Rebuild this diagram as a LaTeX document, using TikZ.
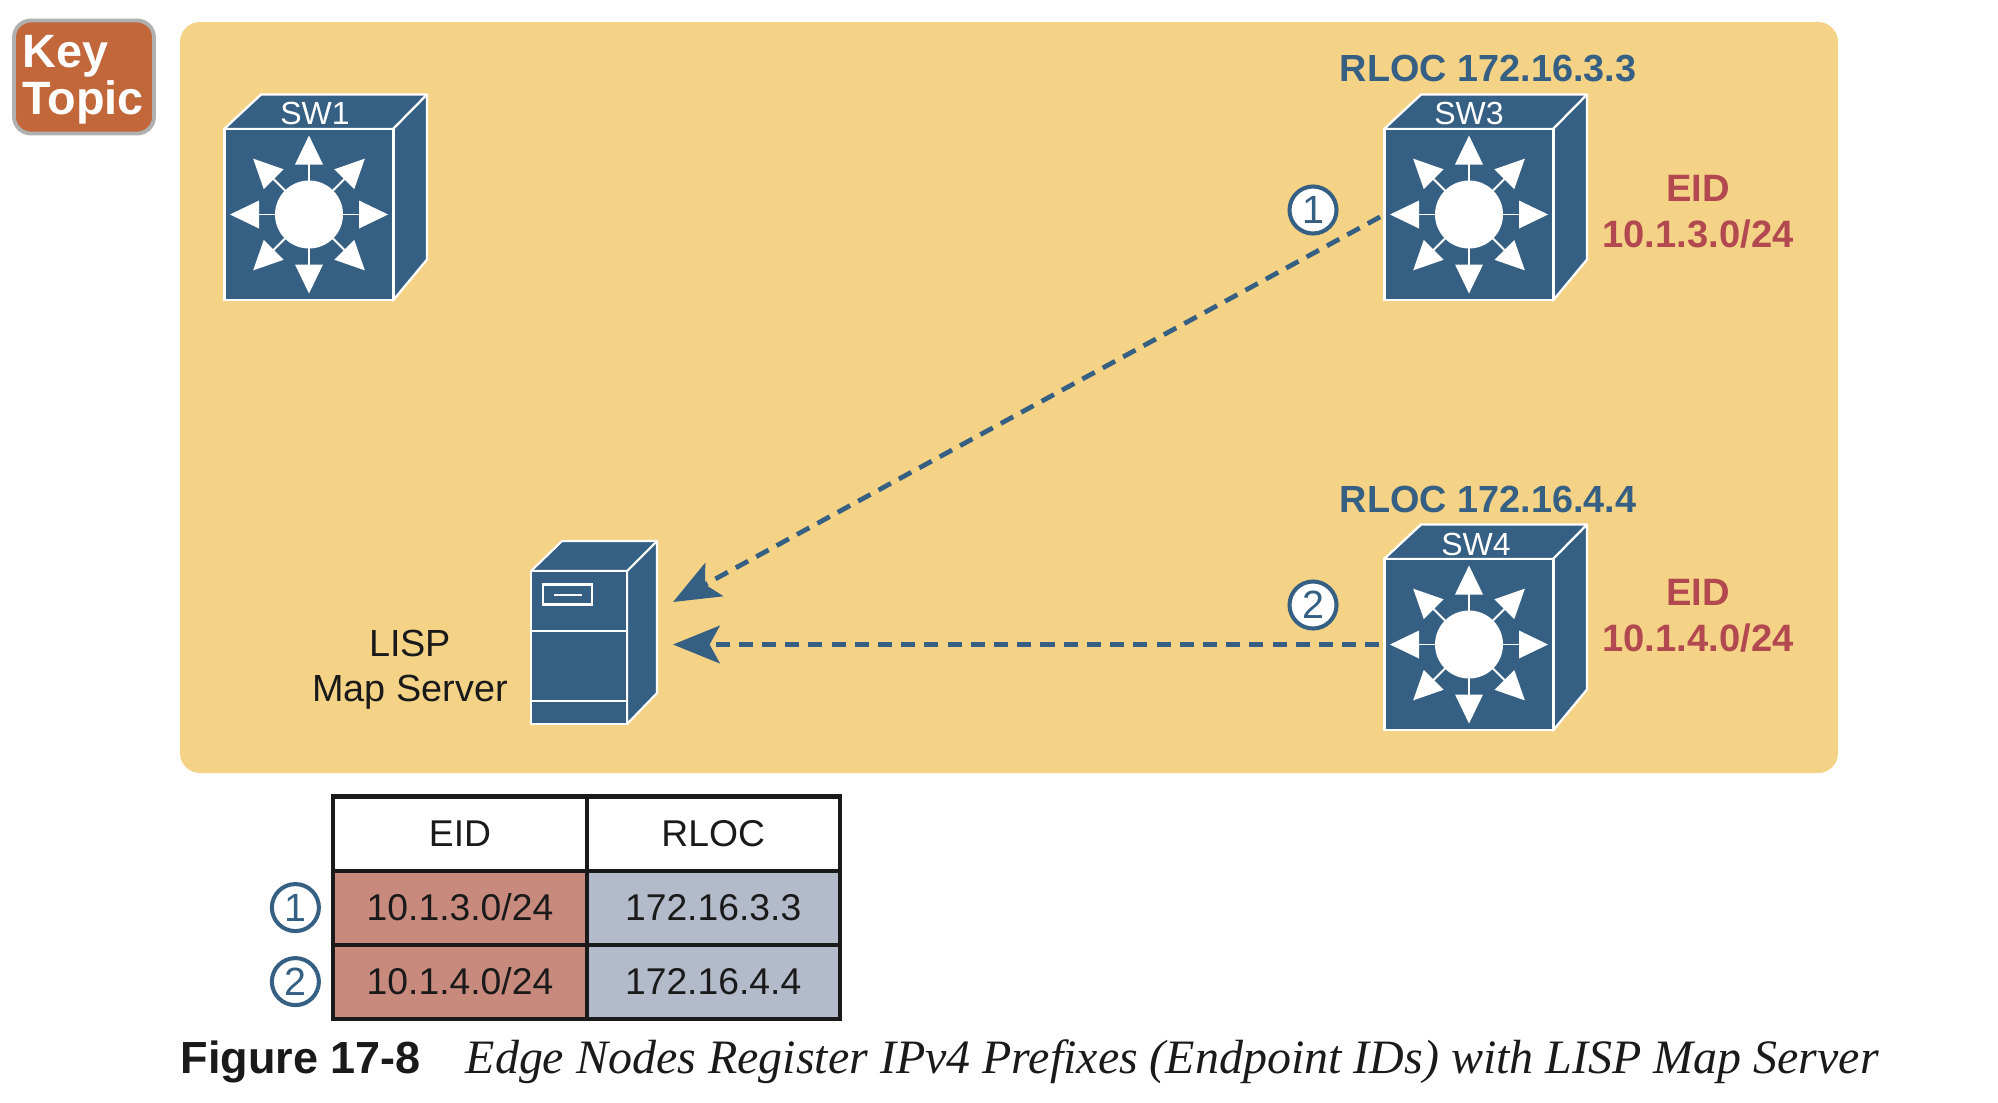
\documentclass[tikz,border=0pt]{standalone}
\usepackage{fontspec}
\setmainfont{Liberation Sans}
\newfontfamily\capfont{Liberation Serif}
\usetikzlibrary{arrows.meta,positioning}
\definecolor{fabricbg}{RGB}{244,211,134}
\definecolor{swblue}{RGB}{54,96,131}
\definecolor{eidred}{RGB}{178,72,80}
\definecolor{cellred}{RGB}{201,138,126}
\definecolor{cellblue}{RGB}{179,187,202}
\definecolor{keyorange}{RGB}{193,103,58}
\definecolor{keygray}{RGB}{176,176,176}
\definecolor{inkblack}{RGB}{26,26,26}
\tikzset{
  swfront/.style={draw=white, fill=swblue, line width=0.65pt, minimum width=1.69cm,
                  minimum height=1.71cm, inner sep=0pt, outer sep=0pt},
  swlabel/.style={font=\fontsize{9.1}{10}\selectfont, text=white, inner sep=0pt},
  rloctext/.style={font=\fontsize{10.75}{12}\selectfont\bfseries, text=swblue, inner sep=0pt},
  eidtext/.style={font=\fontsize{10.85}{13}\selectfont\bfseries, text=eidred,
                  align=center, inner sep=0pt},
  numcirc/.style={draw=swblue, circle, fill=white, line width=1.15pt, minimum size=0.47cm,
                  inner sep=0pt, text=swblue, font=\fontsize{11.2}{12}\selectfont},
  cell/.style={draw=inkblack, line width=1.15pt, minimum width=2.53cm, minimum height=0.74cm,
               inner sep=0pt, outer sep=0pt, text=inkblack,
               font=\fontsize{10.6}{12}\selectfont},
  regarr/.style={-{Stealth[length=13.3pt,width=10.7pt,inset=2.9pt]}, draw=swblue,
                 line width=1.35pt, dash pattern=on 4pt off 2.6pt, shorten <=0.05cm},
  pics/switchicon/.style={code={
    \fill[swblue, draw=white, line width=0.65pt, line join=round]
      (-85,-85.5) -- (-48,-120) -- (118,-120) -- (118,45) -- (84,86) -- (84,-85.5) -- cycle;
    \draw[white, line width=0.65pt] (84,-85.5) -- (118,-120);
    \node[swfront] (front) at (0,0) {};
    \fill[white] (0,0) circle (34);
    \foreach \ang in {0,45,...,315}{
      \draw[white, line width=0.55pt, rotate=\ang] (30,0) -- (52,0);
      \fill[white, rotate=\ang] (50,-14) -- (79,0) -- (50,14) -- cycle;
    }
  }},
}
\begin{document}
\begin{tikzpicture}[x=0.01cm, y=-0.01cm]
  \useasboundingbox (0,0) rectangle (1998,1102);
  \fill[fabricbg, rounded corners=0.2cm] (180,22) rectangle (1838,773);
  \node[draw=keygray, fill=keyorange, line width=1.1pt, rounded corners=0.17cm, minimum width=1.4cm,
        minimum height=1.13cm, inner sep=0pt] (keybox) at (84,77) {};
  \node[anchor=west, align=left, text=white, inner sep=0pt,
        font=\fontsize{13.3}{10.5}\selectfont\bfseries] (keytext) at (22,80) {Key\\Topic};
  % switches
  \pic (sw1) at (309,214.5) {switchicon};
  \pic (sw3) at (1469,214.5) {switchicon};
  \pic (sw4) at (1469,644.5) {switchicon};
  \node[swlabel] (sw1label) at (315,113) {SW1};
  \node[swlabel] (sw3label) at (1469,113) {SW3};
  \node[swlabel] (sw4label) at (1476,544) {SW4};
  \node[rloctext] (rloc3) at (1488,69) {RLOC 172.16.3.3};
  \node[rloctext] (rloc4) at (1488,499) {RLOC 172.16.4.4};
  \node[eidtext] (eid3) at (1698,212) {EID\\10.1.3.0/24};
  \node[eidtext] (eid4) at (1698,616) {EID\\10.1.4.0/24};
  % map server
  \fill[swblue, draw=white, line width=0.6pt, line join=round]
    (531,571) -- (562,541) -- (657,541) -- (657,693) -- (627,724) -- (627,571) -- cycle;
  \draw[white, line width=0.6pt] (627,571) -- (657,541);
  \node[draw=white, fill=swblue, line width=0.6pt, minimum width=0.96cm, minimum height=1.53cm,
        inner sep=0pt, outer sep=0pt] (lisp) at (579,647.5) {};
  \draw[white, line width=0.6pt] (lisp.west |- 0,631) -- (lisp.east |- 0,631);
  \draw[white, line width=0.6pt] (lisp.west |- 0,701) -- (lisp.east |- 0,701);
  \node[draw=white, line width=0.6pt, minimum width=0.49cm, minimum height=0.2cm, inner sep=0pt]
    (lispslot) at (567.5,594.5) {};
  \draw[white, line width=0.6pt] (554,595) -- (582,595);
  \node[align=center, inner sep=0pt, text=inkblack, font=\fontsize{10.75}{12.9}\selectfont] (lisptext) at (410,670) {LISP\\Map Server};
  % registrations
  \coordinate (lisptop) at (673,602);
  \coordinate (lispbot) at (673,644.5);
  \draw[regarr] (sw3front.west) -- (lisptop);
  \draw[regarr] (sw4front.west) -- (lispbot);
  \node[numcirc] (one) at (1313,210) {1};
  \node[numcirc] (two) at (1313,605) {2};
  % table
  \node[cell, fill=white] (eidhead) at (460,833.5) {EID};
  \node[cell, fill=white, right=0pt of eidhead] (rlochead) {RLOC};
  \node[cell, fill=cellred, below=0pt of eidhead] (eidone) {10.1.3.0/24};
  \node[cell, fill=cellblue, right=0pt of eidone] (rlocone) {172.16.3.3};
  \node[cell, fill=cellred, below=0pt of eidone] (eidtwo) {10.1.4.0/24};
  \node[cell, fill=cellblue, right=0pt of eidtwo] (rloctwo) {172.16.4.4};
  \node[numcirc, left=0.125cm of eidone] (rowone) {1};
  \node[numcirc, left=0.125cm of eidtwo] (rowtwo) {2};
  % caption
  \node[anchor=base west, inner sep=0pt, text=inkblack, font=\fontsize{12.8}{14}\selectfont\bfseries]
    (figlabel) at (180,1073) {Figure 17-8};
  \node[anchor=base west, inner sep=0pt, text=inkblack, font=\capfont\itshape\fontsize{13.64}{15}\selectfont]
    (figtitle) at (465,1073) {Edge Nodes Register IPv4 Prefixes (Endpoint IDs) with LISP Map Server};
\end{tikzpicture}
\end{document}
